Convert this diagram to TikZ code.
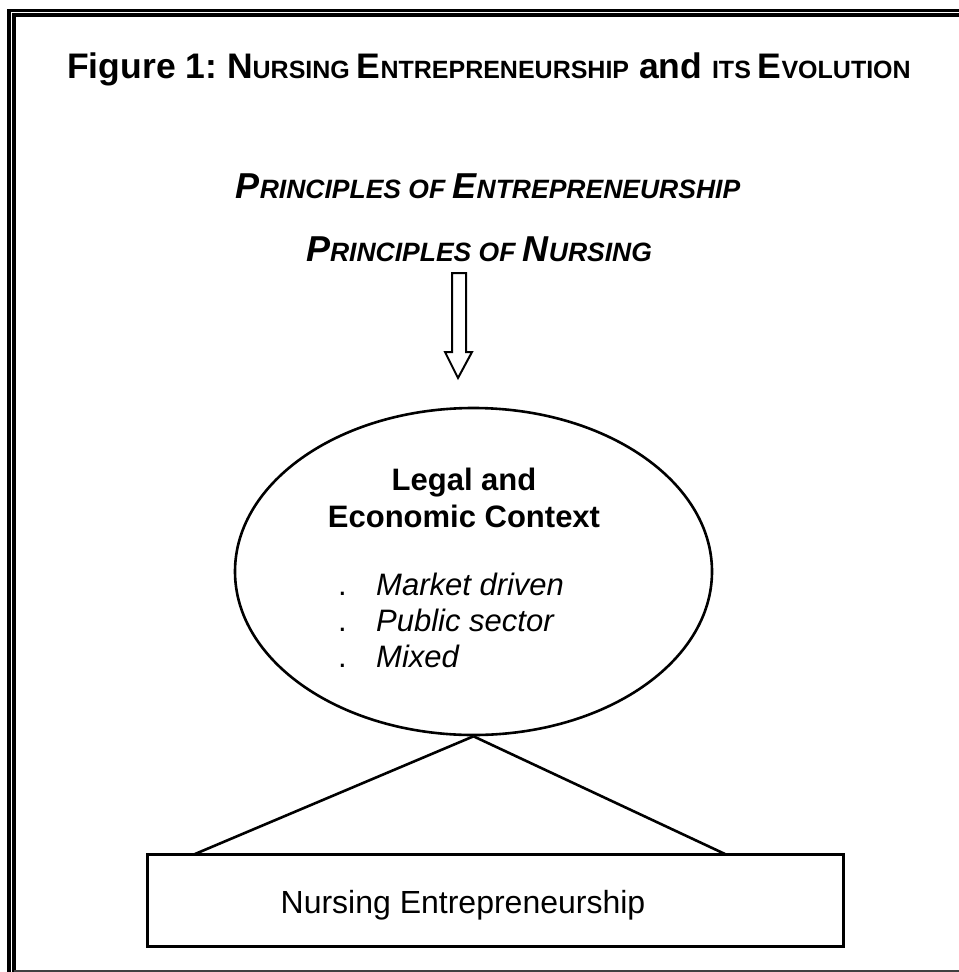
\documentclass[tikz,border=0pt]{standalone}
\usepackage{fontspec}
\setmainfont{Liberation Sans}
\usetikzlibrary{shapes.geometric}
\frenchspacing
\newcommand\Tbig[1]{{\fontsize{35.5bp}{40bp}\selectfont #1}}
\newcommand\Tsm[1]{{\fontsize{25bp}{30bp}\selectfont #1}}
\newcommand\Pbig[1]{{\fontsize{36bp}{40bp}\selectfont #1}}
\newcommand\Psm[1]{{\fontsize{26.5bp}{30bp}\selectfont #1}}
\begin{document}
\begin{tikzpicture}[x=1bp,y=-1bp,
  frameline/.style={line width=3.2bp},
  heading/.style={anchor=base, font=\bfseries, inner sep=0},
  principle/.style={anchor=base, font=\bfseries\itshape, inner sep=0},
  ctxhead/.style={anchor=base, font=\bfseries\fontsize{31bp}{37bp}\selectfont, inner sep=0},
  ctxitem/.style={anchor=base west, font=\itshape\fontsize{31bp}{36bp}\selectfont, inner sep=0},
  ctxdot/.style={anchor=base west, font=\fontsize{31bp}{36bp}\selectfont, inner sep=0},
  connector/.style={line width=2.6bp},
  blockarrow/.style={line width=2bp, fill=white}]
\useasboundingbox (0,0) rectangle (959,972);
% frame
\draw[frameline] (959,10.5) -- (9,10.5) -- (9,972);
\draw[frameline] (959,15) -- (14,15) -- (14,972);
\draw[line width=2bp, black!75] (14,970.5) -- (959,970.5);
% title
\node[heading] (title) at (489,78) {\Tbig{Figure 1: N}\Tsm{URSING }\Tbig{E}\Tsm{NTREPRENEURSHIP}\Tbig{ and }\Tsm{ITS }\Tbig{E}\Tsm{VOLUTION}};
% principles
\node[principle] (pe) at (488,198) {\Pbig{P}\Psm{RINCIPLES OF }\Pbig{E}\Psm{NTREPRENEURSHIP}};
\node[principle] (pn) at (479,261) {\Pbig{P}\Psm{RINCIPLES OF }\Pbig{N}\Psm{URSING}};
% block arrow
\draw[blockarrow] (452,273) -- (466,273) -- (466,352) -- (472,352) -- (458,378) -- (445,352) -- (452,352) -- cycle;
% ellipse
\node[draw, ellipse, line width=2.6bp, minimum width=477bp, minimum height=327bp, inner sep=0] (ctx) at (473.5,571.5) {};
\node[ctxhead] (leg1) at (464,490) {Legal and};
\node[ctxhead] (leg2) at (464,527) {Economic Context};
\node[ctxdot] (d1) at (338,595) {.};
\node[ctxitem] (i1) at (376,595) {Market driven};
\node[ctxdot] (d2) at (338,631) {.};
\node[ctxitem] (i2) at (376,631) {Public sector};
\node[ctxdot] (d3) at (338,667) {.};
\node[ctxitem] (i3) at (376,667) {Mixed};
% bottom box
\node[draw, line width=3bp, minimum width=695bp, minimum height=92bp, inner sep=0] (ne) at (495.5,900) {};
\node[anchor=base, font=\fontsize{32bp}{36bp}\selectfont, inner sep=0] (netext) at (463,913) {Nursing Entrepreneurship};
\coordinate (lf) at (195,854);
\coordinate (rf) at (725,854);
\draw[connector] (ctx.south) -- (lf);
\draw[connector] (ctx.south) -- (rf);
\end{tikzpicture}
\end{document}
